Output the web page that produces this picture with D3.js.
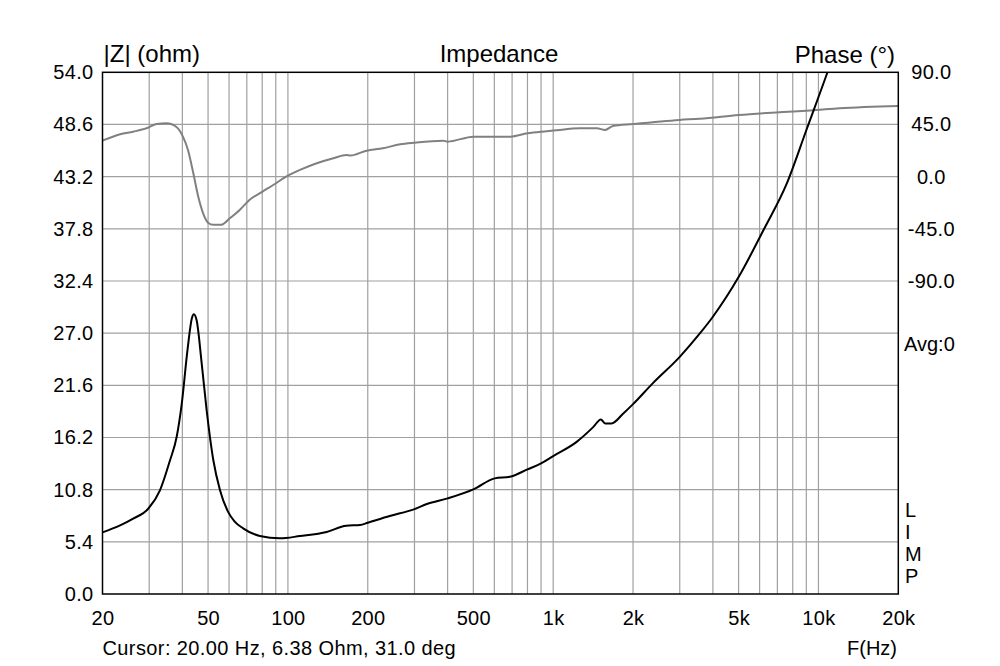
<!DOCTYPE html>
<html><head><meta charset="utf-8">
<script src="https://cdn.jsdelivr.net/npm/d3@7"></script>
<style>body{margin:0;background:#fff;} text{font-family:"Liberation Sans",Arial,sans-serif;}</style>
</head><body>
<svg id="c" width="1000" height="666"></svg>
<script>
const impFreq = [20,23.3,26.1,29.8,32.9,35.9,38.1,39.8,41.8,43.5,44.2,45.3,47.3,49.4,52.3,55.4,59.5,63,67.8,78.4,93.3,111,140,166,187,200,242,300,334,400,500,602,686,800,900,1000,1226,1418,1512,1570,1660,1838,2000,2372,3000,3572,4000,5000,6200,7600,9000,10780,11500];
const impOhm  = [6.38,7.1,7.8,8.85,10.7,13.8,16.3,19.7,25.2,28.6,28.95,28.3,23.9,19.0,13.9,10.8,8.5,7.5,6.8,6.0,5.76,6.0,6.42,7.07,7.14,7.38,8.07,8.79,9.31,9.9,10.83,11.97,12.13,12.9,13.52,14.28,15.75,17.3,18.07,17.66,17.66,18.69,19.65,21.8,24.55,26.97,28.7,32.8,37.65,42.5,48.0,53.9,56.1];
const phFreq = [20,23.3,26.1,29.3,32,34.9,38.1,40.2,42,44,45.9,47.9,50,52.3,56.2,60.4,65.8,71.6,80.2,88,98.5,111,128.4,148.5,166,172,198,228,265,300,385,400,500,600,690,800,900,1000,1262,1460,1570,1680,2000,3000,3570,5000,9800,12000,20000];
const phDeg  = [31.0,36.6,38.8,41.7,45.4,46.0,42.6,34.5,23,2.9,-17.2,-31.6,-39.7,-41.6,-41.4,-35.9,-28.7,-20.1,-12.9,-7.2,0,5.8,11.6,15.9,18.7,18.2,22.4,24.5,27.9,29.3,31.0,30.2,34.5,34.5,34.5,37.4,38.8,39.7,41.7,41.7,40.3,43.7,45.4,48.9,50.0,53.2,57.5,59.0,61.0];
const zTicks = [0,5.4,10.8,16.2,21.6,27.0,32.4,37.8,43.2,48.6,54.0];
const phTicks = [90,45,0,-45,-90];
const fTicks = [20,50,100,200,500,1000,2000,5000,10000,20000];
const fTickLabels = ["20","50","100","200","500","1k","2k","5k","10k","20k"];
const fGrid = [30,40,50,60,70,80,90,100,200,300,400,500,600,700,800,900,1000,2000,3000,4000,5000,6000,7000,8000,9000,10000];

const L=102.5, R=898.3, T=72.3, B=594;
const FONT = "Liberation Sans, Arial, sans-serif";
const svg = d3.select("#c");
const x = d3.scaleLog().domain([20,20000]).range([L,R]);
const yZ = d3.scaleLinear().domain([0,54]).range([B,T]);
const yP = d3.scaleLinear().domain([-360,90]).range([B,T]);
const fmt1 = d => d.toFixed(1);

svg.append("defs").append("clipPath").attr("id","clip").append("rect")
  .attr("x",L).attr("y",T).attr("width",R-L).attr("height",B-T);

const grid = svg.append("g").attr("stroke","#a0a0a0").attr("stroke-width",1.2);
grid.selectAll("line.v").data(fGrid).enter().append("line")
  .attr("x1",d=>x(d)).attr("x2",d=>x(d)).attr("y1",T).attr("y2",B);
grid.selectAll("line.h").data(zTicks.slice(1,-1)).enter().append("line")
  .attr("x1",L).attr("x2",R).attr("y1",d=>yZ(d)).attr("y2",d=>yZ(d));

const g = svg.append("g").attr("clip-path","url(#clip)");
const phData = phFreq.map((f,i)=>[f,phDeg[i]]);
const zData = impFreq.map((f,i)=>[f,impOhm[i]]);
g.append("path").datum(phData)
  .attr("d",d3.line().x(d=>x(d[0])).y(d=>yP(d[1])).curve(d3.curveMonotoneX))
  .attr("fill","none").attr("stroke","#808080").attr("stroke-width",2);
g.append("path").datum(zData)
  .attr("d",d3.line().x(d=>x(d[0])).y(d=>yZ(d[1])).curve(d3.curveMonotoneX))
  .attr("fill","none").attr("stroke","#000").attr("stroke-width",2);

svg.append("rect").attr("x",L).attr("y",T).attr("width",R-L).attr("height",B-T)
  .attr("fill","none").attr("stroke","#000").attr("stroke-width",1.5);

function styleTicks(sel){
  sel.select(".domain").remove();
  sel.selectAll("text").attr("font-size",20).attr("fill","#000")
    .attr("font-family",FONT).attr("letter-spacing",0.3);
}
// left axis
const gl = svg.append("g").attr("transform",`translate(${L},0)`)
  .call(d3.axisLeft(yZ).tickValues(zTicks).tickFormat(fmt1).tickSize(0).tickPadding(9));
styleTicks(gl);

// right axis
const gr = svg.append("g").attr("transform",`translate(${R},0)`)
  .call(d3.axisRight(yP).tickValues(phTicks).tickFormat(fmt1).tickSize(0).tickPadding(33));
styleTicks(gr);
gr.selectAll("text").attr("text-anchor","middle");

// bottom axis
const gb = svg.append("g").attr("transform",`translate(0,${B})`)
  .call(d3.axisBottom(x).tickValues(fTicks).tickFormat((d,i)=>fTickLabels[i]).tickSize(0).tickPadding(17));
styleTicks(gb);

const txt = (s,xx,yy,anchor,size)=>svg.append("text").text(s).attr("x",xx).attr("y",yy)
  .attr("font-size",size||20).attr("text-anchor",anchor||"start").attr("fill","#000");
txt("|Z| (ohm)",L+1,62,"start",24);
txt("Impedance",499,62,"middle",24);
txt("Phase (°)",895,63,"end",24);
txt("Avg:0",904,351);
txt("Cursor: 20.00 Hz, 6.38 Ohm, 31.0 deg",L,655).attr("letter-spacing",0.4);
txt("F(Hz)",897,655,"end");
["L","I","M","P"].forEach((c,i)=>txt(c,905,517+i*22));
</script>
</body></html>
